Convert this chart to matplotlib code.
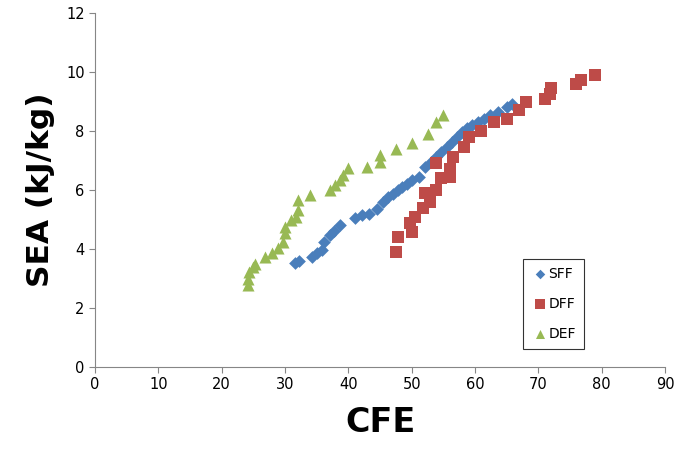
import matplotlib
matplotlib.use("Agg")
import matplotlib.pyplot as plt

# SFF series
sff_cfe = [31.6, 32.2, 34.2, 35.0, 35.8, 36.1, 37.1, 37.8, 38.7, 41.1, 42.1, 43.2, 44.5, 45.5,
           46.3, 47.1, 47.8, 48.4, 49.2, 50.0, 51.1, 52.1, 53.0, 53.9, 54.7, 55.5, 56.3, 57.1,
           58.0, 58.7, 59.6, 60.5, 61.4, 62.4, 63.7, 65.0, 65.8]
sff_sea = [3.53, 3.6, 3.74, 3.85, 3.97, 4.25, 4.47, 4.62, 4.81, 5.04, 5.15, 5.2, 5.37, 5.6,
           5.75, 5.88, 6.0, 6.1, 6.22, 6.34, 6.45, 6.79, 6.95, 7.13, 7.3, 7.47, 7.63, 7.8,
           7.95, 8.09, 8.2, 8.3, 8.4, 8.54, 8.65, 8.82, 8.9]

# DFF series
dff_cfe = [47.5, 47.9, 50.0, 49.7, 50.5, 51.8, 52.9, 52.1, 53.9, 54.7, 56.1, 53.9, 56.0, 56.6,
           58.2, 59.0, 61.0, 63.0, 65.0, 67.0, 68.1, 71.1, 71.8, 72.0, 76.0, 76.8, 78.9]
dff_sea = [3.91, 4.42, 4.59, 4.87, 5.1, 5.4, 5.6, 5.9, 6.0, 6.4, 6.45, 6.9, 6.7, 7.13,
           7.47, 7.8, 8.0, 8.3, 8.4, 8.7, 9.0, 9.1, 9.25, 9.45, 9.6, 9.73, 9.9]

# DEF series
def_cfe = [24.2, 24.2, 24.3, 25.0, 25.2, 26.8, 27.9, 28.9, 29.7, 30.0, 30.0, 31.0, 31.8, 32.1,
           32.1, 34.0, 37.1, 37.9, 38.7, 39.2, 40.0, 42.9, 45.0, 45.0, 47.6, 50.0, 52.6, 53.9, 55.0]
def_sea = [2.78, 3.0, 3.23, 3.4, 3.5, 3.74, 3.85, 4.02, 4.25, 4.53, 4.76, 4.98, 5.1, 5.32,
           5.66, 5.83, 6.0, 6.17, 6.34, 6.5, 6.73, 6.79, 6.96, 7.19, 7.4, 7.58, 7.9, 8.3, 8.54]

x_ticks = list(range(0, 91, 10))
y_ticks = list(range(0, 13, 2))

fig = plt.figure(figsize=(6.9, 4.53), dpi=100)
ax = fig.add_axes([0.1377, 0.1898, 0.8261, 0.7815])

ax.scatter(sff_cfe, sff_sea, marker="D", s=42, color="#4A7EBB", label="SFF", zorder=3, linewidths=0)
ax.scatter(dff_cfe, dff_sea, marker="s", s=75, color="#BE4B48", label="DFF", zorder=3, linewidths=0)
ax.scatter(def_cfe, def_sea, marker="^", s=75, color="#98B954", label="DEF", zorder=3, linewidths=0)

ax.set_xlim(0, 90)
ax.set_ylim(0, 12)
ax.set_xticks(x_ticks)
ax.set_yticks(y_ticks)
for side in ["top", "right"]:
    ax.spines[side].set_visible(False)
for side in ["left", "bottom"]:
    ax.spines[side].set_color("#868686")
ax.tick_params(direction="out", length=4, color="#868686", labelsize=10.5)

ax.set_xlabel("CFE", fontsize=24, fontweight="bold", labelpad=10)
ax.set_ylabel("SEA (kJ/kg)", fontsize=22.5, fontweight="bold", labelpad=8)

leg = ax.legend(loc="lower right", bbox_to_anchor=(0.858, 0.05), frameon=True, fancybox=False,
                edgecolor="black", fontsize=10, handletextpad=0.0, borderpad=0.6,
                labelspacing=1.15, handlelength=1.2, scatterpoints=1, markerscale=0.75,
                borderaxespad=0)
leg.get_frame().set_linewidth(0.8)

fig.savefig("out.png", dpi=100)
